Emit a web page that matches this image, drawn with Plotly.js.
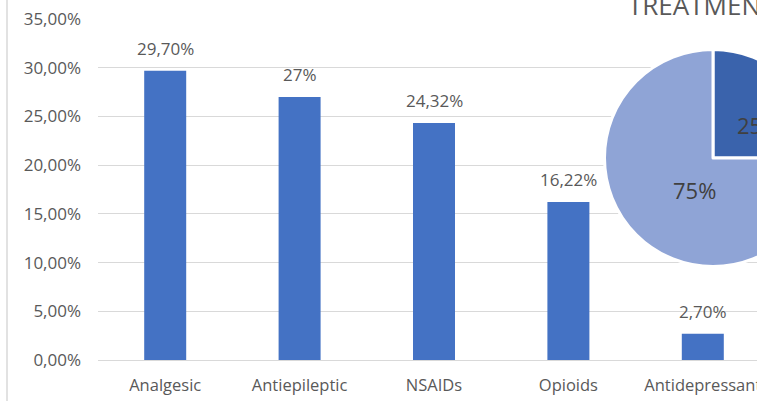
<!DOCTYPE html>
<html>
<head>
<meta charset="utf-8">
<script src="https://cdn.plot.ly/plotly-3.0.1.min.js"></script>
<style>
  html, body { margin: 0; padding: 0; overflow: hidden; background: #fff; }
  #chart { width: 900px; height: 401px; }
</style>
</head>
<body>
<div id="chart"></div>
<script>
// ---- data ----
const categories = ['Analgesic', 'Antiepileptic', 'NSAIDs', 'Opioids', 'Antidepressant'];
const values = [29.70, 27.00, 24.32, 16.22, 2.70];
const valueLabels = ['29,70%', '27%', '24,32%', '16,22%', '2,70%'];
const pieLabels = ['Group A', 'Group B'];
const pieValues = [25, 75];
const pieTitle = 'TREATMENT';

// ---- layout geometry (pixels) ----
const W = 900, H = 401;
const M = { l: 98, r: 0, t: 19, b: 41 };
const pw = W - M.l - M.r, ph = H - M.t - M.b;
const px = x => (x - M.l) / pw;
const py = y => (H - M.b - y) / ph;

const gray = '#595959';
const font = 'Open Sans, Liberation Sans, sans-serif';

const bar = {
  type: 'bar',
  x: categories,
  y: values,
  marker: { color: '#4472C4' },
  hoverinfo: 'skip',
  showlegend: false
};

const pie = {
  type: 'pie',
  labels: pieLabels,
  values: pieValues,
  sort: false,
  direction: 'clockwise',
  rotation: 0,
  marker: { colors: ['#3A63AC', '#8FA4D6'], line: { color: '#ffffff', width: 3 } },
  textinfo: 'none',
  domain: { x: [px(604.5), px(821.5)], y: [py(266.5), py(49.5)] },
  showlegend: false,
  hoverinfo: 'skip'
};

const annotations = categories.map((c, i) => ({
  x: c, y: values[i], xref: 'x', yref: 'y',
  text: valueLabels[i], showarrow: false,
  yanchor: 'bottom', yshift: 9,
  font: { family: font, size: 17, color: gray }
}));
annotations.push({
  xref: 'paper', yref: 'paper', x: px(626), y: py(5), xanchor: 'left', yanchor: 'middle',
  text: pieTitle, showarrow: false,
  font: { family: font, size: 26, color: gray }
});
// pie slice labels (Excel-style placement)
const pieLabelPos = [[758, 125], [694, 190]];
const pieTotal = pieValues.reduce((a, b) => a + b, 0);
pieValues.forEach((v, i) => annotations.push({
  xref: 'paper', yref: 'paper', x: px(pieLabelPos[i][0]), y: py(pieLabelPos[i][1]),
  xanchor: 'center', yanchor: 'middle', showarrow: false,
  text: Math.round(v / pieTotal * 100) + '%',
  font: { family: font, size: 22, color: '#404040' }
}));

const layout = {
  width: W, height: H,
  margin: M,
  paper_bgcolor: '#ffffff', plot_bgcolor: '#ffffff',
  separators: ',.',
  bargap: 0.6875,
  xaxis: {
    type: 'category',
    range: [-0.5, -0.5 + pw / 134.4],
    showgrid: false, zeroline: false, showline: false,
    ticks: '', ticklabelstandoff: 13,
    tickfont: { family: font, size: 16.5, color: gray },
    fixedrange: true
  },
  yaxis: {
    range: [0, 35], dtick: 5, tick0: 0,
    tickformat: '.2f', ticksuffix: '%',
    showgrid: true, gridcolor: '#d9d9d9', gridwidth: 1,
    zeroline: true, zerolinecolor: '#d9d9d9', zerolinewidth: 1,
    showline: false, ticks: '', ticklabelstandoff: 16,
    tickfont: { family: font, size: 17, color: gray },
    fixedrange: true
  },
  shapes: [
    { type: 'rect', xref: 'paper', yref: 'paper', x0: px(598), x1: 1.01, y0: py(285), y1: 1.2,
      fillcolor: '#ffffff', line: { width: 0 }, layer: 'between' },
    { type: 'line', xref: 'paper', yref: 'paper', x0: px(7), x1: px(7), y0: py(H + 2), y1: py(-2),
      line: { color: '#d9d9d9', width: 1.5 } }
  ],
  annotations: annotations
};

Plotly.newPlot('chart', [bar, pie], layout, { staticPlot: true, displayModeBar: false });
</script>
</body>
</html>
